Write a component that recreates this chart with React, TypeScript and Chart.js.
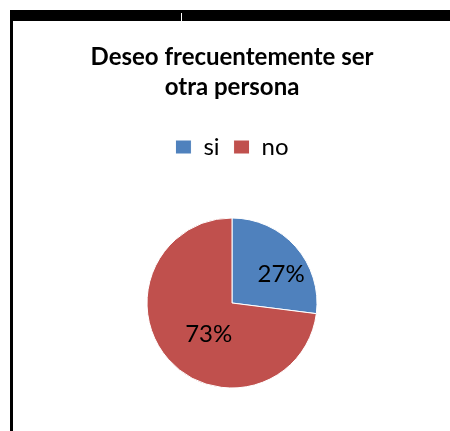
import React, { useEffect, useRef } from "react";
import { Chart, registerables } from "chart.js";

Chart.register(...registerables);

const categories = ["si", "no"];
const values = [27, 73];
const sliceColors = ["#4F81BD", "#C0504D"];
const titleLines = ["Deseo frecuentemente ser", "otra persona"];

const FONT = "Lato, 'Liberation Sans', sans-serif";

const sliceLabels = {
  id: "sliceLabels",
  afterDatasetsDraw(chart: any, _args: any, opts: any) {
    const ctx = chart.ctx;
    const meta = chart.getDatasetMeta(0);
    const data = chart.data.datasets[0].data as number[];
    const total = data.reduce((a, b) => a + b, 0);
    ctx.save();
    ctx.fillStyle = "#000";
    ctx.font = `24px ${FONT}`;
    ctx.textAlign = "center";
    ctx.textBaseline = "middle";
    meta.data.forEach((arc: any, i: number) => {
      const { x, y, startAngle, endAngle, outerRadius } = arc.getProps(
        ["x", "y", "startAngle", "endAngle", "outerRadius"],
        true
      );
      const mid = (startAngle + endAngle) / 2 + (opts.angleShift[i] * Math.PI) / 180;
      const r = outerRadius * opts.radiusFraction[i];
      const pct = Math.round((data[i] / total) * 100) + "%";
      ctx.fillText(pct, x + Math.cos(mid) * r, y + Math.sin(mid) * r);
    });
    ctx.restore();
  },
};

export default function App() {
  const ref = useRef<HTMLCanvasElement>(null);
  useEffect(() => {
    const chart = new Chart(ref.current!, {
      type: "pie",
      data: {
        labels: categories,
        datasets: [
          {
            data: values,
            backgroundColor: sliceColors,
            borderColor: "#ffffff",
            borderWidth: 1,
          },
        ],
      },
      options: {
        responsive: false,
        animation: false,
        radius: 85,
        layout: { padding: { left: 14, right: 0, top: 0, bottom: 0 } },
        plugins: {
          title: {
            display: true,
            text: titleLines,
            color: "#000",
            font: { family: FONT, size: 24, weight: "bold", lineHeight: 1.25 },
            padding: { top: 42, bottom: 19 },
          },
          legend: {
            display: true,
            position: "top",
            labels: {
              color: "#000",
              font: { family: FONT, size: 24 },
              boxWidth: 16,
              boxHeight: 14,
              padding: 14,
            },
          },
          tooltip: { enabled: false },
          sliceLabels: { angleShift: [11, -12], radiusFraction: [0.67, 0.46] },
        } as any,
      },
      plugins: [sliceLabels],
    });
    return () => chart.destroy();
  }, []);

  return (
    <div style={{ position: "fixed", left: 0, top: 0, width: 450, height: 431, background: "#fff", overflow: "hidden" }}>
      <canvas ref={ref} width={450} height={437} style={{ position: "absolute", left: 0, top: 0 }} />
      <div style={{ position: "absolute", left: 10, top: 10, width: 440, height: 11, background: "#000" }} />
      <div style={{ position: "absolute", left: 181, top: 13, width: 1, height: 8, background: "#fff" }} />
      <div style={{ position: "absolute", left: 10, top: 10, width: 3, height: 421, background: "#000" }} />
    </div>
  );
}
